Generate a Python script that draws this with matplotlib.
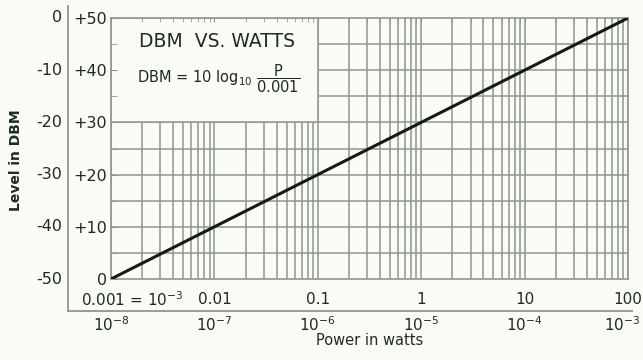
import numpy as np
import matplotlib
matplotlib.use("Agg")
import matplotlib.pyplot as plt
from matplotlib.lines import Line2D
from matplotlib.patches import Rectangle

plt.rcParams['font.family'] = ['DejaVu Sans']
plt.rcParams['mathtext.fontset'] = 'custom'
plt.rcParams['mathtext.rm'] = 'DejaVu Sans'
plt.rcParams['mathtext.it'] = 'DejaVu Sans'

# data
power_w = [1e-8, 1e-3]
level_dbm = [0, 50]

dbm_ticks = [0, 10, 20, 30, 40, 50]
dbm_labels = ["0", "+10", "+20", "+30", "+40", "+50"]
outer_labels = ["-50", "-40", "-30", "-20", "-10", "0"]
watt_ticks = [1e-8, 1e-7, 1e-6, 1e-5, 1e-4, 1e-3]
upper_labels = [r"0.001 = 10$^{-3}$", "0.01", "0.1", "1", "10", "100"]
lower_labels = [r"$10^{-8}$", r"$10^{-7}$", r"$10^{-6}$", r"$10^{-5}$", r"$10^{-4}$", r"$10^{-3}$"]

ink = "#1f2a26"
grid_c = "#8e9692"
bg = "#fafbf5"

fig = plt.figure(figsize=(6.43, 3.6), dpi=100, facecolor=bg)
ax = fig.add_axes([111/643, 81/360, 517/643, 261/360])
ax.set_facecolor(bg)
ax.set_xscale("log")
ax.set_xlim(1e-8, 1e-3)
ax.set_ylim(0, 50)

# grid drawn as lines so the title box can sit on top of it
minors = [m * 10.0**e for e in range(-8, -3) for m in range(2, 10)]
ax.vlines(minors + watt_ticks, 0, 50, color=grid_c, lw=1.1, zorder=1)
ax.hlines(np.arange(5, 50, 5), 1e-8, 1e-3, color=grid_c, lw=1.1, zorder=1)
ax.add_patch(Rectangle((1e-8, 30), 1e-6 - 1e-8, 20, facecolor=bg,
                       edgecolor=grid_c, lw=1.1, zorder=1.5))

ax.plot(power_w, level_dbm, color="#151a18", lw=2.2, zorder=3, solid_capstyle="round")

for s in ax.spines.values():
    s.set_color(grid_c)
    s.set_linewidth(1.2)

ax.set_yticks(dbm_ticks)
ax.set_yticklabels(dbm_labels)
ax.set_yticks(np.arange(5, 50, 10), minor=True)
ax.tick_params(axis="y", which="both", direction="in", length=4, color=grid_c,
               labelsize=11.5, labelcolor=ink, pad=3)
ax.set_xticks(watt_ticks)
ax.set_xticklabels([])
ax.tick_params(axis="x", which="both", direction="in", top=True, bottom=False,
               length=3, color=grid_c)
ax.xaxis.set_minor_formatter(plt.NullFormatter())

# outer column of dBm labels
for v, lab in zip(dbm_ticks, outer_labels):
    ax.text(-0.094, v, lab, transform=ax.get_yaxis_transform(), ha="right",
            va="center", fontsize=11.5, color=ink)

# x labels, two rows
for i, (w, lab) in enumerate(zip(watt_ticks, upper_labels)):
    if i == 0:
        ax.text(-0.058, -0.08, lab, transform=ax.transAxes, ha="left", va="center",
                fontsize=11, color=ink)
    else:
        ax.text(w, -0.08, lab, transform=ax.get_xaxis_transform(), ha="center",
                va="center", fontsize=11, color=ink)
for i, (w, lab) in enumerate(zip(watt_ticks, lower_labels)):
    if i == len(watt_ticks) - 1:
        ax.text(1.0245, -0.175, lab, transform=ax.transAxes, ha="right",
                va="center", fontsize=11, color=ink)
    else:
        ax.text(w, -0.175, lab, transform=ax.get_xaxis_transform(), ha="center",
                va="center", fontsize=11, color=ink)

ax.text(0.5, -0.235, "Power in watts", transform=ax.transAxes, ha="center",
        va="center", fontsize=10.5, color=ink)
fig.text(16/643, 0.555, "Level in DBM", rotation=90, ha="center", va="center",
         fontsize=10, fontweight="bold", color=ink)

# title box text
ax.text(1.05e-7, 45.5, "DBM  VS. WATTS", ha="center", va="center",
        fontsize=13.5, color=ink, zorder=4)
ax.text(1.1e-7, 38.3, r"DBM = 10 log$_{10}$ $\dfrac{\mathrm{P}}{\mathrm{0.001}}$",
        ha="center", va="center", fontsize=10.5, color=ink, zorder=4)

# outer frame lines
fig.add_artist(Line2D([68/643, 68/643], [49/360, 354/360], color=grid_c, lw=1.3))
fig.add_artist(Line2D([68/643, 632/643], [49/360, 49/360], color=grid_c, lw=1.3))

fig.savefig("out.png", dpi=100, facecolor=bg)
